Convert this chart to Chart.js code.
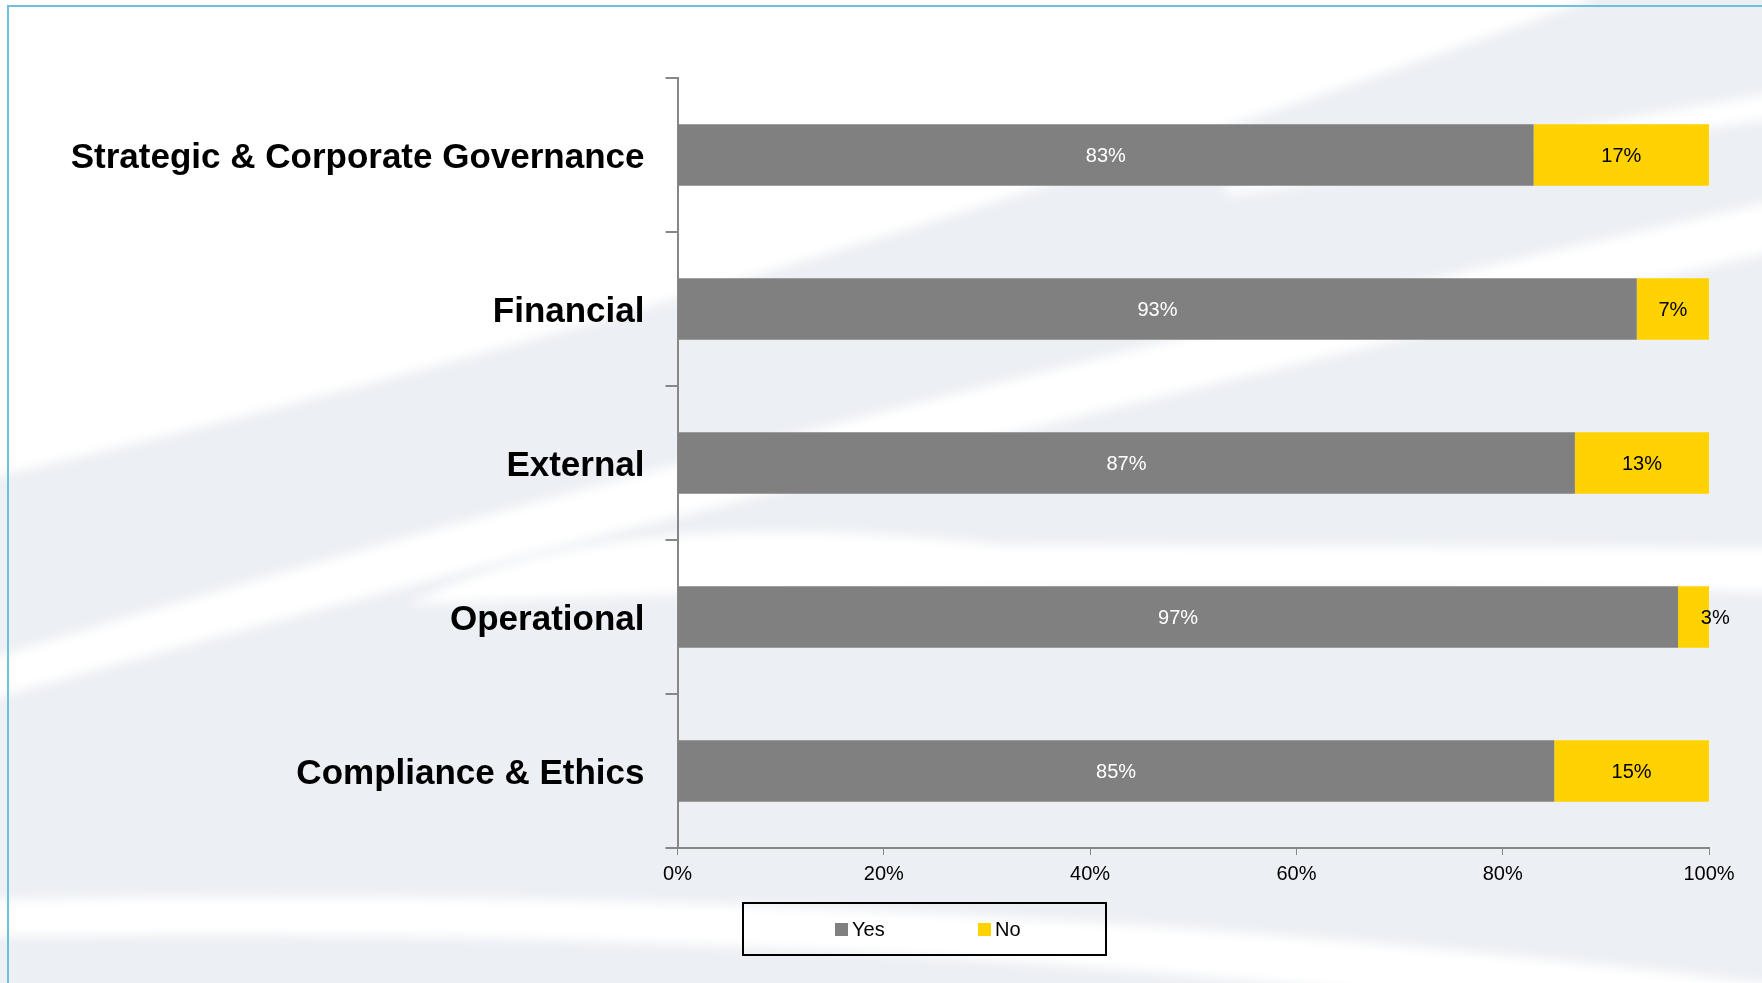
<!DOCTYPE html>
<html lang="en">
  <head>
    <meta charset="UTF-8" />
    <title>Risk categories - Yes / No</title>
    <script src="https://cdn.jsdelivr.net/npm/chart.js"></script>
    <style>
      body { margin: 0; background: #eceff4; }
      #wrap { position: relative; width: 1762px; height: 983px; overflow: hidden; }
      #legend {
        position: absolute; left: 742px; top: 902px; width: 365px; height: 54px;
        box-sizing: border-box; border: 2px solid #000;
        display: flex; align-items: center; padding-left: 91px;
        font: 20px "Liberation Sans", Arial, sans-serif; color: #000;
      }
      #legend .item { display: flex; align-items: center; width: 143px; flex-shrink: 0; }
      #legend .sw { width: 13px; height: 13px; margin-right: 4px; }
    </style>
  </head>
  <body>
    <div id="wrap">
      <canvas id="riskChart" width="1762" height="983"></canvas>
      <div id="legend"></div>
    </div>

    <script>
      const categories = [
        "Strategic & Corporate Governance",
        "Financial",
        "External",
        "Operational",
        "Compliance & Ethics",
      ];
      const yesValues = [83, 93, 87, 97, 85];
      const noValues = [17, 7, 13, 3, 15];
      const xTicks = [0, 20, 40, 60, 80, 100];

      const GREY = "#808080";
      const YELLOW = "#ffd200";
      const FONT = '"Liberation Sans", Arial, sans-serif';

      // light background with soft white swooshes + thin blue frame
      const backdrop = {
        id: "backdrop",
        beforeDraw(chart) {
          const c = chart.ctx;
          const W = chart.width, H = chart.height;
          c.save();
          c.fillStyle = "#eceff4";
          c.fillRect(0, 0, W, H);
          c.filter = "blur(6px)";
          c.fillStyle = "#ffffff";
          // top-left white area
          c.beginPath();
          c.moveTo(-20, -20);
          c.lineTo(1590, -20);
          c.lineTo(1590, 0);
          c.quadraticCurveTo(760, 300, -20, 480);
          c.closePath();
          c.fill();
          // thin streak upper right
          c.beginPath();
          c.moveTo(1225, 186);
          c.lineTo(1780, 92);
          c.lineTo(1780, 118);
          c.lineTo(1225, 196);
          c.closePath();
          c.fill();
          // long band rising to the right
          c.beginPath();
          c.moveTo(-20, 662);
          c.quadraticCurveTo(700, 440, 1780, 200);
          c.lineTo(1780, 250);
          c.quadraticCurveTo(700, 500, -20, 702);
          c.closePath();
          c.fill();
          // wedge around the operational row
          c.beginPath();
          c.moveTo(408, 605);
          c.quadraticCurveTo(600, 500, 1000, 545);
          c.lineTo(1780, 548);
          c.lineTo(1780, 592);
          c.quadraticCurveTo(900, 580, 408, 605);
          c.closePath();
          c.fill();
          // bottom band
          c.beginPath();
          c.moveTo(-20, 900);
          c.quadraticCurveTo(900, 880, 1780, 985);
          c.lineTo(1780, 1040);
          c.quadraticCurveTo(900, 920, -20, 937);
          c.closePath();
          c.fill();
          c.filter = "none";
          // frame
          c.strokeStyle = "#6ec1da";
          c.lineWidth = 2;
          c.beginPath();
          c.moveTo(W, 6);
          c.lineTo(8, 6);
          c.lineTo(8, H);
          c.stroke();
          c.restore();
        },
      };

      // percentage labels in the middle of each segment
      const segLabels = {
        id: "segLabels",
        afterDatasetsDraw(chart) {
          const c = chart.ctx;
          c.save();
          c.font = "20px " + FONT;
          c.textAlign = "center";
          c.textBaseline = "middle";
          chart.data.datasets.forEach((ds, i) => {
            const meta = chart.getDatasetMeta(i);
            meta.data.forEach((bar, j) => {
              const txt = ds.data[j] + "%";
              const w = c.measureText(txt).width;
              const seg = Math.abs(bar.x - bar.base);
              let x = (bar.x + bar.base) / 2;
              if (seg < w + 10) x += w * 0.75; // too narrow: push it past the bar end
              c.fillStyle = ds.labelColor;
              c.fillText(txt, x, bar.y + 1);
            });
          });
          c.restore();
        },
      };

      const ctx = document.getElementById("riskChart").getContext("2d");
      const riskChart = new Chart(ctx, {
        type: "bar",
        data: {
          labels: categories,
          datasets: [
            { label: "Yes", data: yesValues, backgroundColor: GREY, labelColor: "#ffffff" },
            { label: "No", data: noValues, backgroundColor: YELLOW, labelColor: "#000000" },
          ],
        },
        options: {
          indexAxis: "y",
          responsive: false,
          devicePixelRatio: 1,
          animation: false,
          barPercentage: 0.4,
          categoryPercentage: 1,
          layout: { padding: { left: 10, top: 78, right: 53, bottom: 95 } },
          plugins: { legend: { display: false }, tooltip: { enabled: false } },
          scales: {
            x: {
              stacked: true,
              min: 0,
              max: 100,
              afterBuildTicks: (s) => { s.ticks = xTicks.map((v) => ({ value: v })); },
              afterFit: (s) => { s.height = 40; },
              border: { color: "#878787", width: 2 },
              grid: { drawOnChartArea: false, tickLength: 7, color: "#878787", lineWidth: 1 },
              ticks: {
                padding: 7,
                color: "#000",
                font: { family: FONT, size: 20 },
                callback: (v) => v + "%",
              },
            },
            y: {
              stacked: true,
              afterFit: (s) => { s.width = 667.5; },
              border: { color: "#878787", width: 2 },
              grid: { drawOnChartArea: false, offset: true, tickLength: 12, color: "#878787", lineWidth: 2 },
              ticks: {
                padding: 21,
                labelOffset: 3,
                color: "#000",
                font: { family: FONT, size: 35, weight: "bold" },
              },
            },
          },
        },
        plugins: [backdrop, segLabels],
      });

      // boxed legend below the axis
      const legend = document.getElementById("legend");
      riskChart.data.datasets.forEach((ds) => {
        const item = document.createElement("div");
        item.className = "item";
        const sw = document.createElement("span");
        sw.className = "sw";
        sw.style.background = ds.backgroundColor;
        item.appendChild(sw);
        item.appendChild(document.createTextNode(ds.label));
        legend.appendChild(item);
      });
    </script>
  </body>
</html>
